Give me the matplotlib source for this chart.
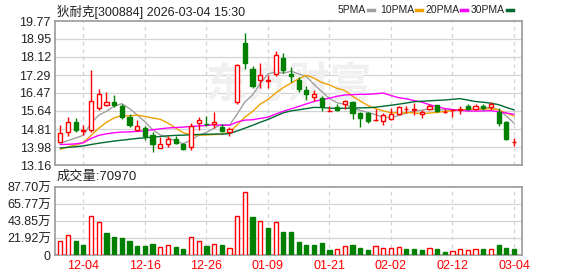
import matplotlib

matplotlib.use("Agg")

import matplotlib.pyplot as plt
import numpy as np
import pandas as pd

plt.rcParams["font.family"] = ["Liberation Sans", "Noto Sans CJK SC", "DejaVu Sans"]

# daily OHLC, 2025-12-01 .. 2026-03-04
opens = [14.22, 14.69, 15.14, 14.72, 14.77, 15.76, 15.92, 16.07, 15.89, 15.38,
         14.77, 14.86, 14.55, 13.94, 14.13, 14.37, 14.11, 13.97, 15.09, 15.05,
         15.06, 14.92, 14.69, 16.04, 18.77, 17.57, 17.07, 17.03, 17.36, 18.08,
         17.34, 17.08, 16.62, 16.26, 16.24, 15.64, 15.83, 15.96, 16.07, 15.55,
         15.55, 15.21, 15.18, 15.27, 15.50, 15.73, 15.70, 15.49, 15.73, 15.90,
         15.58, 15.68, 15.70, 15.88, 15.75, 15.87, 15.82, 15.58, 15.12, 14.20]
highs = [15.00, 15.37, 15.32, 15.00, 17.54, 16.67, 16.53, 16.39, 15.96, 15.50,
         15.24, 14.94, 14.66, 14.45, 14.51, 14.48, 14.17, 15.07, 15.37, 15.40,
         15.60, 15.06, 14.91, 17.80, 19.23, 17.69, 17.85, 17.27, 18.40, 18.31,
         17.66, 17.20, 16.78, 16.62, 16.35, 15.89, 15.98, 16.16, 16.10, 15.58,
         15.58, 15.73, 15.55, 15.79, 15.89, 15.89, 16.00, 15.70, 15.98, 15.93,
         15.73, 15.73, 15.89, 15.96, 15.96, 15.96, 16.04, 15.78, 15.17, 14.40]
lows = [14.20, 14.48, 14.66, 14.55, 14.66, 15.67, 15.89, 15.83, 15.29, 14.89,
        14.72, 14.29, 13.74, 13.94, 13.97, 14.12, 13.83, 13.83, 14.75, 14.94,
        14.86, 14.68, 14.49, 15.95, 17.57, 16.70, 16.70, 16.70, 17.23, 17.39,
        16.96, 16.50, 16.16, 16.09, 15.63, 15.63, 15.63, 15.73, 15.27, 14.89,
        15.09, 15.20, 14.98, 15.24, 15.47, 15.55, 15.47, 15.30, 15.70, 15.61,
        15.55, 15.35, 15.52, 15.70, 15.70, 15.70, 15.70, 14.97, 14.32, 14.02]
closes = [14.63, 15.14, 14.78, 14.76, 16.12, 16.42, 16.06, 15.93, 15.35, 14.98,
          14.97, 14.51, 14.11, 14.13, 14.37, 14.16, 13.91, 14.95, 15.24, 15.03,
          15.15, 14.71, 14.83, 17.76, 17.82, 16.78, 17.30, 17.04, 18.20, 17.54,
          17.24, 16.67, 16.44, 16.40, 15.89, 15.66, 15.68, 16.10, 15.55, 15.34,
          15.17, 15.23, 15.44, 15.50, 15.82, 15.75, 15.72, 15.58, 15.89, 15.63,
          15.60, 15.70, 15.72, 15.75, 15.88, 15.78, 15.96, 15.07, 14.37, 14.22]
# volume in 万 (10k lots)
volumes = [17.5, 26.4, 17.9, 12.8, 49.8, 43.0, 28.1, 23.0, 21.7, 17.9,
           11.5, 11.5, 14.0, 9.8, 12.3, 10.2, 7.7, 22.6, 18.7, 11.5,
           13.6, 12.3, 8.5, 50.7, 81.3, 48.5, 44.3, 34.5, 43.0, 29.4,
           29.4, 16.6, 12.8, 12.8, 15.3, 6.4, 7.2, 11.1, 12.8, 8.5,
           6.4, 11.1, 8.5, 8.5, 9.8, 7.7, 7.7, 6.4, 8.5, 7.7,
           3.8, 5.1, 7.2, 6.4, 7.2, 7.7, 7.7, 12.8, 8.9, 7.1]

# moving-average values at the start of the window (history before 12-01)
ma5_head = [14.15, 14.28, 14.40, 14.52]
ma10_head = [13.88, 13.99, 14.08, 14.19, 14.52, 14.85, 15.12, 15.32, 15.43]
ma20_head = [14.10, 14.11, 14.13, 14.18, 14.38, 14.52, 14.59, 14.64, 14.67, 14.68,
             14.70, 14.73, 14.78, 14.82, 14.86, 14.88, 14.90, 14.93, 14.95]
ma30_head = [13.94, 13.97, 14.00, 14.04, 14.10, 14.16, 14.21, 14.26, 14.30, 14.34,
             14.38, 14.41, 14.44, 14.47, 14.50, 14.52, 14.53, 14.55, 14.56, 14.57,
             14.58, 14.58, 14.60, 14.72, 14.85, 14.98, 15.12, 15.25, 15.40]

date_ticks = [3, 11, 19, 27, 35, 43, 51, 59]
date_labels = ["12-04", "12-16", "12-26", "01-09", "01-21", "02-02", "02-12", "03-04"]
price_ticks = [13.16, 13.98, 14.81, 15.64, 16.47, 17.29, 18.12, 18.95, 19.77]
vol_ticks = [0, 21.92, 43.85, 65.77, 87.70]
vol_labels = ["0", "21.92万", "43.85万", "65.77万", "87.70万"]

UP = "#ff0000"
DOWN = "#008000"
GRID = "#d3d3d3"
BORDER = "#999999"
MA_STYLES = [(5, ma5_head, "#a0a0a0", "5PMA"), (10, ma10_head, "#f0a000", "10PMA"),
             (20, ma20_head, "#ff00ff", "20PMA"), (30, ma30_head, "#006a30", "30PMA")]
legend_x = [338, 380, 425, 471]

df = pd.DataFrame({"open": opens, "high": highs, "low": lows, "close": closes, "vol": volumes})
x = np.arange(len(df))

fig = plt.figure(figsize=(5.78, 2.76), dpi=100)
ax = fig.add_axes([55 / 578, 1 - 165 / 276, 467 / 578, 144 / 276])
axv = fig.add_axes([55 / 578, 1 - 255 / 276, 467 / 578, 68 / 276])

for a in (ax, axv):
    a.set_xlim(-0.69, 60.04)
    a.tick_params(length=0, labelsize=9, colors="#222222", pad=3)
    for spine in a.spines.values():
        spine.set_color(BORDER)
        spine.set_linewidth(1.2)
    for t in date_ticks:
        a.axvline(t, color=GRID, lw=0.9, ls=(0, (3, 3)), zorder=0)
    a.set_xticks([])

ax.set_ylim(price_ticks[0], price_ticks[-1])
ax.set_yticks(price_ticks)
ax.set_yticklabels([f"{v:.2f}" for v in price_ticks])
for v in price_ticks[1:-1]:
    ax.axhline(v, color=GRID, lw=0.9, zorder=0)

# watermark
ax.text(0.5, 0.56, "东方财富", transform=ax.transAxes, ha="center", va="center",
        fontsize=30, fontweight="bold", color="#f0f0f0", zorder=0,
        family=["Noto Sans CJK SC"])

# moving averages
for window, head, color, _ in MA_STYLES:
    ma = df["close"].rolling(window).mean().to_numpy()
    ma[: len(head)] = head
    ax.plot(x, ma, color=color, lw=1.0, zorder=2)

up = df["close"] >= df["open"]
w = 0.55
for i, row in df.iterrows():
    color = UP if up[i] else DOWN
    lo_b = min(row["open"], row["close"])
    hi_b = max(row["open"], row["close"])
    ax.vlines(i, row["low"], row["high"], color=color, lw=1.0, zorder=3)
    height = max(hi_b - lo_b, 0.012)
    ax.bar(i, height, bottom=lo_b, width=w, color="white" if up[i] else DOWN,
           edgecolor=color, linewidth=1.0, zorder=4)

# volume, coloured against the previous close
prev = df["close"].shift(1).fillna(df["open"])
vol_up = df["close"] >= prev
axv.set_ylim(0, vol_ticks[-1])
axv.set_yticks(vol_ticks)
axv.set_yticklabels(vol_labels)
for v in vol_ticks[1:-1]:
    axv.axhline(v, color=GRID, lw=0.9, zorder=0)
axv.bar(x[vol_up], df["vol"][vol_up], width=w, color="white", edgecolor=UP, linewidth=1.0, zorder=3)
axv.bar(x[~vol_up], df["vol"][~vol_up], width=w, color=DOWN, edgecolor=DOWN, linewidth=1.0, zorder=3)

for t, lab in zip(date_ticks, date_labels):
    axv.text(t, -0.07, lab, transform=axv.get_xaxis_transform(), ha="center", va="top",
             color=UP, fontsize=9)

fig.text(57 / 578, 1 - 12 / 276, "狄耐克[300884] 2026-03-04 15:30", ha="left", va="center",
         fontsize=9, color="#222222")
fig.text(57 / 578, 1 - 177 / 276, "成交量:70970", ha="left", va="center",
         fontsize=9.5, color="#222222")

# legend row
fig.canvas.draw()
renderer = fig.canvas.get_renderer()
for (window, _, color, name), lx in zip(MA_STYLES, legend_x):
    t = fig.text(lx / 578, 1 - 10 / 276, name, ha="left", va="center", fontsize=7.5,
                 color="#222222")
    bb = t.get_window_extent(renderer=renderer)
    x1 = bb.x1 + 2
    fig.add_artist(plt.Line2D([x1 / 578, (x1 + 6) / 578], [1 - 10 / 276] * 2,
                              transform=fig.transFigure, color=color, lw=2.5))

fig.savefig("out.png", dpi=100)
